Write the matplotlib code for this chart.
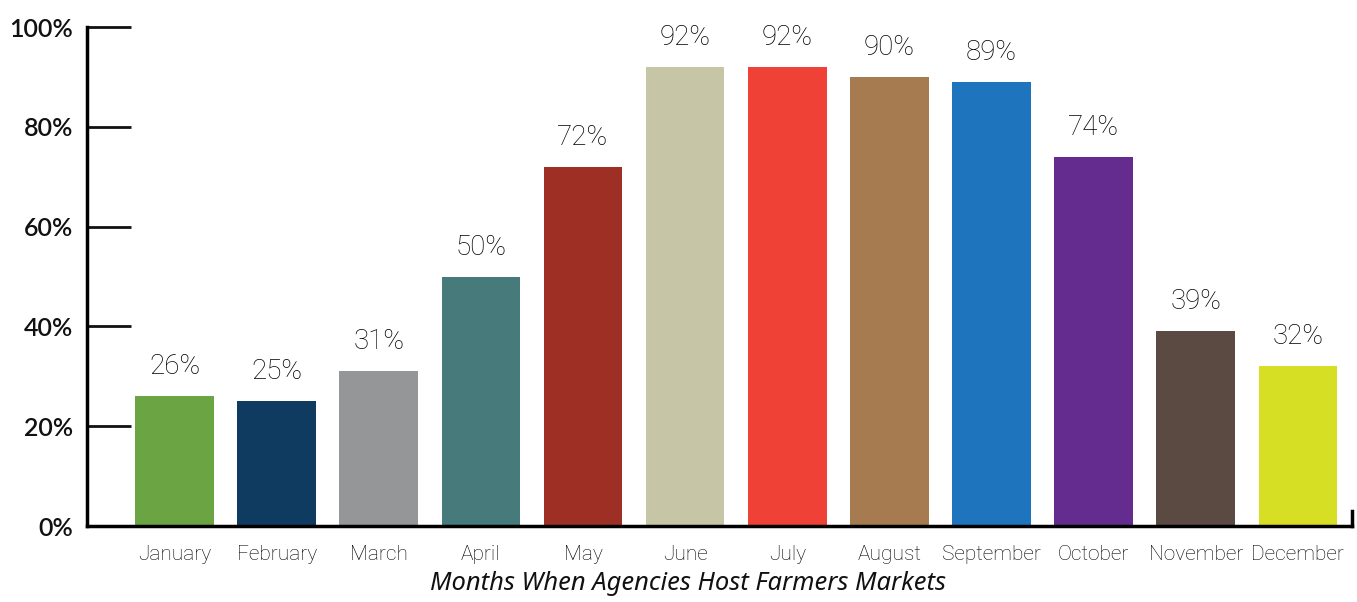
import matplotlib
matplotlib.use("Agg")
import matplotlib.pyplot as plt

months = ["January", "February", "March", "April", "May", "June",
          "July", "August", "September", "October", "November", "December"]
percent = [26, 25, 31, 50, 72, 92, 92, 90, 89, 74, 39, 32]
colors = ["#6aa443", "#0e3b5f", "#959698", "#477a7b", "#9e2f24", "#c6c6a6",
          "#ef4135", "#a67b50", "#1f75bd", "#652c8f", "#5b4a42", "#d6df23"]
y_ticks = [0, 20, 40, 60, 80, 100]

fig = plt.figure(figsize=(13.57, 6.02), dpi=100)
ax = fig.add_axes([0.0641, 0.1262, 0.9322, 0.8288])

x = list(range(len(months)))
ax.bar(x, percent, width=0.77, color=colors, zorder=2)

for xi, v in zip(x, percent):
    ax.text(xi, v + 3.2, f"{v}%", ha="center", va="bottom",
            fontsize=20, family="Roboto", fontweight="light", color="#000000")

ax.set_xlim(-0.857, 11.53)
ax.set_ylim(0, 100)

ax.set_yticks(y_ticks)
ax.set_yticklabels([f"{t}%" for t in y_ticks], fontsize=18, family="Lato",
                   fontweight="semibold", color="#111111")
ax.tick_params(axis="y", direction="in", length=32, width=2, pad=10, color="#111111")

ax.set_xticks(x)
ax.set_xticklabels(months, fontsize=15, family="Roboto", fontweight="light", color="#000000")
ax.tick_params(axis="x", length=0, pad=14)

ax.set_xlabel("Months When Agencies Host Farmers Markets", fontsize=18.4,
              family="Noto Sans", style="italic", color="#111111")
ax.xaxis.set_label_coords(0.475, -0.09)

ax.spines["top"].set_visible(False)
ax.spines["right"].set_bounds(0, 3)
for side in ["left", "right", "bottom"]:
    ax.spines[side].set_linewidth(2.5)

fig.savefig("out.png", dpi=100)
